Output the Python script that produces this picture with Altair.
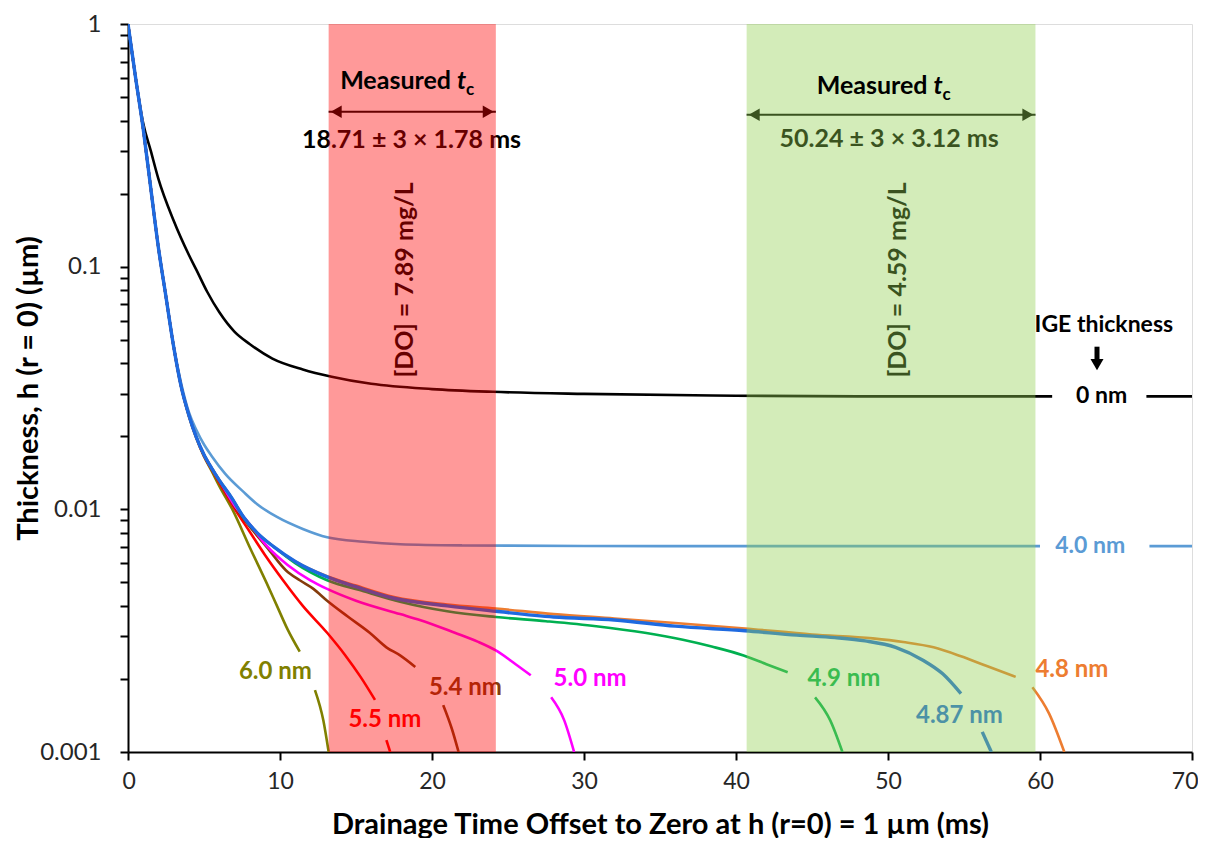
import altair as alt
import pandas as pd

# ---------------- data ----------------
curve_names = ["0 nm", "4.0 nm", "6.0 nm", "5.5 nm", "5.4 nm", "5.0 nm", "4.9 nm", "4.8 nm", "4.87 nm"]
curve_colors = ["#000000", "#5b9bd5", "#808000", "#ff0000", "#843c0c", "#ff00ff", "#00b050", "#ed7d31", "#1e6ae0"]
curve_widths = [2.6, 2.6, 2.6, 2.6, 2.6, 2.6, 2.6, 2.6, 3.4]

# None marks a break in the drawn line (where its label sits)
x_0nm = [0, 0.5, 1.0, 1.5, 2.0, 3.0, 4.0, 4.5, 5.2, 6.0, 7.0, 8.0, 9.5, 11.5, 13.4, 16, 20, 24, 30, 40, 50, 60.8, None, 67.0, 70]
h_0nm = [1, 0.6, 0.39, 0.30, 0.23, 0.155, 0.112, 0.097, 0.079, 0.065, 0.054, 0.048, 0.0418, 0.0377, 0.0352, 0.0329, 0.0313, 0.0305, 0.0299, 0.0294, 0.0292, 0.0292, None, 0.0292, 0.0292]

x_40 = [0, 0.5, 1.0, 1.5, 2.0, 2.5, 3.0, 3.5, 4.0, 4.5, 5.0, 5.5, 6.4, 7.6, 8.5, 9.8, 11.5, 13.1, 15.5, 17.9, 22, 30, 40, 50, 60.0, None, 67.2, 70]
h_40 = [1, 0.6, 0.37, 0.21, 0.12, 0.075, 0.047, 0.033, 0.0252, 0.0212, 0.0185, 0.0166, 0.0140, 0.0118, 0.0105, 0.0093, 0.0083, 0.00767, 0.00735, 0.00718, 0.0071, 0.00706, 0.00705, 0.00705, 0.00705, None, 0.00705, 0.00705]

x_60 = [0, 0.5, 1.0, 1.5, 2.0, 2.5, 3.0, 3.5, 4.0, 4.5, 5.0, 5.5, 6.0, 6.9, 8.0, 9.1, 9.8, 10.5, 11.3, None, 12.3, 12.85, 13.2]
h_60 = [1, 0.6, 0.37, 0.21, 0.12, 0.075, 0.047, 0.032, 0.0243, 0.0196, 0.0165, 0.0144, 0.0125, 0.0099, 0.0070, 0.0050, 0.0040, 0.0032, 0.00259, None, 0.0018, 0.00135, 0.001]

x_55 = [0, 0.5, 1.0, 1.5, 2.0, 2.5, 3.0, 3.5, 4.0, 4.5, 5.0, 5.5, 6.0, 7.0, 8.0, 9.0, 10.2, 11.5, 13.1, 14.3, 15.3, 16.25, None, 17.0, 17.25]
h_55 = [1, 0.6, 0.37, 0.21, 0.12, 0.075, 0.047, 0.032, 0.0244, 0.0197, 0.0166, 0.0146, 0.0129, 0.0101, 0.0081, 0.0065, 0.0051, 0.0040, 0.0031, 0.0025, 0.00204, 0.00164, None, 0.00112, 0.001]

x_54 = [0, 0.5, 1.0, 1.5, 2.0, 2.5, 3.0, 3.5, 4.0, 4.5, 5.0, 5.5, 6.0, 7.0, 8.0, 9.2, 10.4, 11.3, 12.2, 13.1, 14.5, 15.9, 17.0, 17.9, 18.9, None, 20.74, 21.3, 21.75]
h_54 = [1, 0.6, 0.37, 0.21, 0.12, 0.075, 0.047, 0.032, 0.0245, 0.0198, 0.0167, 0.0147, 0.0131, 0.0103, 0.0085, 0.0069, 0.0056, 0.0051, 0.0047, 0.0042, 0.0036, 0.0031, 0.0027, 0.0025, 0.00224, None, 0.00156, 0.00125, 0.001]

x_50 = [0, 0.5, 1.0, 1.5, 2.0, 2.5, 3.0, 3.5, 4.0, 4.5, 5.0, 5.5, 6.0, 7.0, 8.0, 9.1, 10.5, 12.0, 13.1, 15.0, 17.9, 19.2, 21.5, 23.0, 24.2, 25.5, 26.5, None, 27.84, 28.7, 29.35]
h_50 = [1, 0.6, 0.37, 0.21, 0.12, 0.075, 0.047, 0.032, 0.0245, 0.0198, 0.0168, 0.0148, 0.0132, 0.0104, 0.0087, 0.0071, 0.0059, 0.0051, 0.0047, 0.0042, 0.0037, 0.0035, 0.0031, 0.00285, 0.00262, 0.0023, 0.00207, None, 0.00168, 0.00135, 0.001]

x_49 = [0, 0.5, 1.0, 1.5, 2.0, 2.5, 3.0, 3.5, 4.0, 4.5, 5.0, 5.5, 6.0, 6.8, 7.6, 8.5, 9.6, 11, 13.1, 15.5, 17.9, 21.0, 24.2, 27.5, 30.8, 34.0, 36.5, 38.4, 40.5, 42.0, 43.4, None, 45.2, 46.2, 47.0]
h_49 = [1, 0.6, 0.37, 0.21, 0.12, 0.075, 0.047, 0.032, 0.0245, 0.0198, 0.0168, 0.0148, 0.0132, 0.0112, 0.0093, 0.0080, 0.0070, 0.0060, 0.0051, 0.0046, 0.00416, 0.0038, 0.0036, 0.00346, 0.0033, 0.0031, 0.0029, 0.00272, 0.0025, 0.0023, 0.00213, None, 0.00168, 0.00135, 0.001]

x_487 = [0, 0.5, 1.0, 1.5, 2.0, 2.5, 3.0, 3.5, 4.0, 4.5, 5.0, 5.5, 6.0, 6.8, 7.6, 8.5, 9.6, 11, 13.1, 15.0, 17.5, 21.0, 24.2, 28, 32, 36, 40.6, 44.0, 46.5, 48.5, 50.5, 52.3, 53.6, 54.8, None, 56.2, 56.8]
h_487 = [1, 0.6, 0.37, 0.21, 0.12, 0.075, 0.047, 0.032, 0.0245, 0.0198, 0.0168, 0.0148, 0.0132, 0.0112, 0.0093, 0.0080, 0.0070, 0.0061, 0.00527, 0.0048, 0.0043, 0.0040, 0.0038, 0.0036, 0.0035, 0.0033, 0.00316, 0.00303, 0.00296, 0.00287, 0.0027, 0.00239, 0.0021, 0.00174, None, 0.00121, 0.001]

x_48 = [0, 0.5, 1.0, 1.5, 2.0, 2.5, 3.0, 3.5, 4.0, 4.5, 5.0, 5.5, 6.0, 6.8, 7.6, 8.5, 9.6, 11, 13.1, 15.0, 17.5, 21.0, 24.2, 28, 32, 36, 40.6, 45, 49.0, 51.0, 53.0, 54.8, 56.5, 58.4, None, 59.5, 60.6, 61.6]
h_48 = [1, 0.6, 0.37, 0.21, 0.12, 0.075, 0.047, 0.032, 0.0245, 0.0198, 0.0168, 0.0148, 0.0132, 0.0112, 0.0093, 0.0080, 0.0070, 0.0061, 0.0053, 0.00485, 0.00435, 0.00405, 0.0039, 0.0037, 0.00355, 0.0034, 0.00323, 0.00305, 0.00294, 0.00284, 0.0027, 0.00248, 0.00226, 0.00204, None, 0.00185, 0.00144, 0.001]

curve_x = [x_0nm, x_40, x_60, x_55, x_54, x_50, x_49, x_48, x_487]
curve_h = [h_0nm, h_40, h_60, h_55, h_54, h_50, h_49, h_48, h_487]

# curve labels (position in data units)
lab_text = ["6.0 nm", "5.5 nm", "5.4 nm", "5.0 nm", "4.9 nm", "4.87 nm", "4.8 nm"]
lab_x = [9.7, 16.9, 22.2, 30.4, 47.1, 54.7, 62.1]
lab_h = [0.00214, 0.00135, 0.00183, 0.0020, 0.0020, 0.00141, 0.00217]
lab_color = ["#808000", "#ff0000", "#843c0c", "#ff00ff", "#00b050", "#1e6ae0", "#ed7d31"]

# shaded bands of measured t_c (ms)
band_lo = [13.2, 40.7]
band_hi = [24.2, 59.7]
band_color = ["#ff0000", "#92d050"]
meas_text = ["18.71 \u00b1 3 \u00d7 1.78 ms", "50.24 \u00b1 3 \u00d7 3.12 ms"]
meas_x = [18.65, 50.07]
meas_h = [0.333, 0.336]
meas_title_x = [21.25, 52.6]
meas_title_h = [0.541, 0.516]
arrow_h = [0.4347, 0.4225]
do_text = ["[DO] =  7.89 mg/L", "[DO] =  4.59 mg/L"]
do_x = [18.22, 50.66]
do_h = [0.0882, 0.0882]

FONT = "Lato"
X_DOMAIN = [0, 70]
Y_DOMAIN = [0.001, 1]
y_tick_values = [m * d for d in [0.001, 0.01, 0.1] for m in range(1, 10)] + [1]
y_tick_values = [float(f"{v:.4g}") for v in y_tick_values]

# ---------------- encodings ----------------
xaxis = alt.Axis(values=list(range(0, 71, 10)), tickSize=8, tickWidth=2, tickColor="black",
                 domainColor="black", domainWidth=2, labelFont=FONT, labelFontSize=23,
                 labelColor="#262626", labelPadding=10, labelFlush=True, labelFlushOffset=6,
                 grid=False,
                 titleFont=FONT, titleFontSize=29, titleFontWeight="bold", titleColor="black",
                 titleX=532, titleY=72, titleBaseline="middle", titleAlign="center")
yaxis = alt.Axis(values=y_tick_values, tickSize=8, tickWidth=2, tickColor="black",
                 domainColor="black", domainWidth=2, labelFont=FONT, labelFontSize=24,
                 labelColor="#262626", labelPadding=19, labelOverlap=False, labelBound=False,
                 labelFlush=False, grid=False,
                 labelExpr="(datum.value == 1 || datum.value == 0.1 || datum.value == 0.01 || datum.value == 0.001) ? format(datum.value, '~g') : ''",
                 titleFont=FONT, titleFontSize=29, titleFontWeight="bold", titleColor="black",
                 titleAngle=270, titleX=-100, titleY=364, titleBaseline="middle", titleAlign="center")

X_TITLE = "Drainage Time Offset to Zero at h (r=0) = 1 \u00b5m (ms)"
Y_TITLE = "Thickness, h (r = 0) (\u00b5m)"
X = alt.X("x:Q", scale=alt.Scale(domain=X_DOMAIN, nice=False, zero=False), axis=xaxis, title=X_TITLE)
Y = alt.Y("h:Q", scale=alt.Scale(type="log", domain=Y_DOMAIN, nice=False), axis=yaxis, title=Y_TITLE)

layers = []

# curves (one layer each so that draw order is controlled)
for name, col, w, xs, hs in zip(curve_names, curve_colors, curve_widths, curve_x, curve_h):
    rows = []
    seg = 0
    for i, (xv, hv) in enumerate(zip(xs, hs)):
        if xv is None:
            seg += 1
            continue
        rows.append({"x": xv, "h": hv, "seg": seg, "i": i})
    d = pd.DataFrame(rows)
    layers.append(
        alt.Chart(d).mark_line(color=col, strokeWidth=w, clip=True, interpolate="monotone")
        .encode(x=X, y=Y, detail="seg:N", order="i:Q")
    )

# curve labels (below the translucent bands)
lab_df = pd.DataFrame({"x": lab_x, "h": lab_h, "t": lab_text, "c": lab_color})
layers.append(
    alt.Chart(lab_df).mark_text(font=FONT, fontSize=24, fontWeight="bold", align="center", baseline="middle")
    .encode(x=X, y=Y, text="t:N", color=alt.Color("c:N", scale=None))
)

# measured value texts
meas_df = pd.DataFrame({"x": meas_x, "h": meas_h, "t": meas_text})
layers.append(
    alt.Chart(meas_df).mark_text(font=FONT, fontSize=25, fontWeight="bold", align="center", baseline="middle", color="black")
    .encode(x=X, y=Y, text="t:N")
)

# [DO] texts rotated
do_df = pd.DataFrame({"x": do_x, "h": do_h, "t": do_text})
layers.append(
    alt.Chart(do_df).mark_text(font=FONT, fontSize=25, fontWeight="bold", align="center", baseline="middle", angle=270, color="black")
    .encode(x=X, y=Y, text="t:N")
)

# double-headed arrows
arr_df = pd.DataFrame({"x": band_lo, "x2": band_hi, "h": arrow_h})
layers.append(
    alt.Chart(arr_df).mark_rule(color="black", strokeWidth=2)
    .encode(x=X, x2="x2:Q", y=Y)
)
head_df = pd.DataFrame({"x": [band_lo[0] + 0.5, band_lo[1] + 0.5], "h": arrow_h})
layers.append(
    alt.Chart(head_df).mark_point(shape="triangle-left", filled=True, size=160, color="black", opacity=1)
    .encode(x=X, y=Y)
)
head_df2 = pd.DataFrame({"x": [band_hi[0] - 0.5, band_hi[1] - 0.5], "h": arrow_h})
layers.append(
    alt.Chart(head_df2).mark_point(shape="triangle-right", filled=True, size=160, color="black", opacity=1)
    .encode(x=X, y=Y)
)

# translucent bands drawn over
band_df = pd.DataFrame({"x": band_lo, "x2": band_hi, "h": [Y_DOMAIN[0]] * 2, "h2": [Y_DOMAIN[1]] * 2, "c": band_color})
layers.append(
    alt.Chart(band_df).mark_rect(opacity=0.4)
    .encode(x=X, x2="x2:Q", y=Y, y2="h2:Q", color=alt.Color("c:N", scale=None))
)

# "Measured t_c" titles on top
mt_df = pd.DataFrame({"x": meas_title_x, "h": meas_title_h})
layers.append(
    alt.Chart(mt_df).mark_text(font=FONT, fontSize=25, fontWeight="bold", align="right", baseline="alphabetic", color="black", text="Measured")
    .encode(x=X, y=Y)
)
layers.append(
    alt.Chart(mt_df).mark_text(font=FONT, fontSize=25, fontWeight="bold", fontStyle="italic", align="left", baseline="alphabetic", color="black", text="t", dx=6)
    .encode(x=X, y=Y)
)
layers.append(
    alt.Chart(mt_df).mark_text(font=FONT, fontSize=17, fontWeight="bold", align="left", baseline="alphabetic", color="black", text="c", dx=15, dy=6)
    .encode(x=X, y=Y)
)

# IGE thickness annotation
ige_df = pd.DataFrame({"x": [64.2, 64.05, 63.3], "h": [0.0575, 0.0292, 0.00705],
                       "t": ["IGE thickness", "0 nm", "4.0 nm"], "c": ["#000000", "#000000", "#5b9bd5"]})
layers.append(
    alt.Chart(ige_df).mark_text(font=FONT, fontSize=23, fontWeight="bold", align="center", baseline="middle")
    .encode(x=X, y=Y, text="t:N", color=alt.Color("c:N", scale=None))
)
shaft_df = pd.DataFrame({"x": [63.75], "h": [0.0468], "h2": [0.0410]})
layers.append(
    alt.Chart(shaft_df).mark_rule(color="black", strokeWidth=5)
    .encode(x=X, y=Y, y2="h2:Q")
)
tip_df = pd.DataFrame({"x": [63.75], "h": [0.0395]})
layers.append(
    alt.Chart(tip_df).mark_point(shape="triangle-down", filled=True, size=170, color="black", opacity=1)
    .encode(x=X, y=Y)
)

chart = (
    alt.layer(*layers)
    .properties(width=1064, height=728, autosize=alt.AutoSizeParams(type="none"),
                padding={"left": 120, "top": 16, "right": 6, "bottom": 86})
    .configure_view(stroke="black", strokeWidth=2)
    .configure(background="white")
)

chart.save("out.html", embed_options={"renderer": "svg", "actions": False})
